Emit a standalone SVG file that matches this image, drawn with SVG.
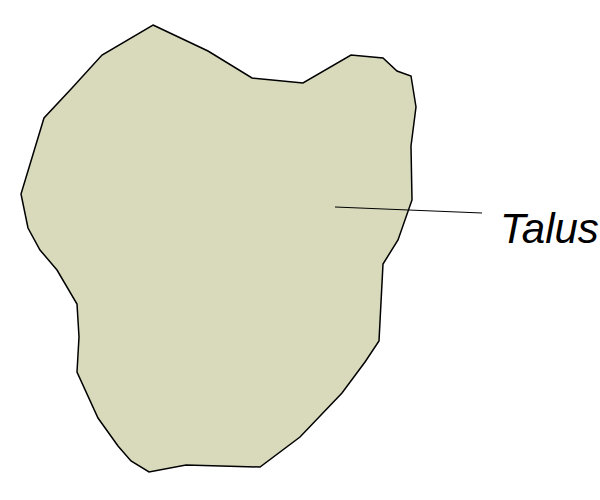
<svg xmlns="http://www.w3.org/2000/svg" width="600" height="500" viewBox="0 0 600 500">
<style>
.bone{fill:#d8dabb;stroke:#000;stroke-width:1.5;stroke-linejoin:miter}
.lead{stroke:#000;stroke-width:1.2;fill:none}
.lbl{font-family:"Liberation Sans",Arial,sans-serif;font-style:italic;font-size:42px;fill:#000}
</style>
<g id="talus">
<polygon class="bone" points="153,25 208,51 252,78 303,83 351,55 383,58 397,71 411,76 416,107 411,146 412,200 398,240 383,264 379,341 365,362 342,393 300,437 260,467 186,465 149,472 131,461 118,446 98,418 77,372 79,337 77,304 57,270 40,250 28,228 21,194 44,118 72,88 102,55"/>
</g>
<g id="connectors">
<line class="lead" x1="335" y1="207" x2="482" y2="213"/>
</g>
<g id="label">
<text class="lbl" x="500" y="243">Talus</text>
</g>
</svg>
